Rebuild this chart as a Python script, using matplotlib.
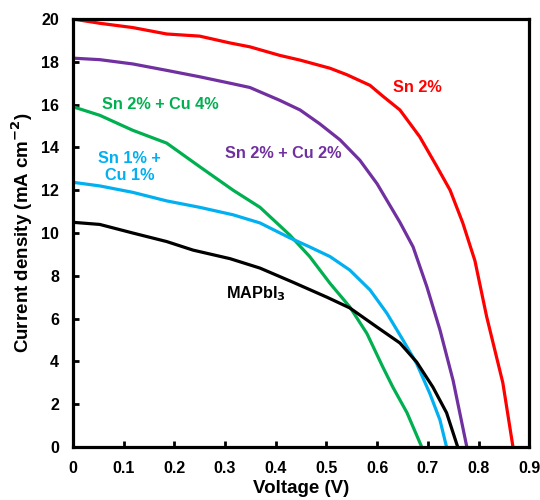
import numpy as np
import matplotlib.pyplot as plt

plt.rcParams['font.family'] = ['Liberation Sans', 'DejaVu Sans']
plt.rcParams['font.weight'] = 'bold'
plt.rcParams['mathtext.default'] = 'bf'

# J-V curves (voltage in V, current density in mA cm^-2)
v_sn2 = [0, 0.053, 0.118, 0.185, 0.25, 0.31, 0.349, 0.408, 0.448, 0.507, 0.54, 0.586, 0.611,
         0.645, 0.684, 0.718, 0.744, 0.769, 0.793, 0.816, 0.848, 0.868]
j_sn2 = [20.0, 19.8, 19.6, 19.3, 19.2, 18.88, 18.7, 18.3, 18.08, 17.7, 17.4, 16.9, 16.4,
         15.75, 14.5, 13.1, 12.0, 10.47, 8.7, 6.1, 3.0, 0]

v_sn2cu2 = [0, 0.053, 0.118, 0.185, 0.25, 0.31, 0.349, 0.408, 0.448, 0.487, 0.527, 0.566,
            0.6, 0.625, 0.645, 0.671, 0.698, 0.724, 0.75, 0.777]
j_sn2cu2 = [18.17, 18.1, 17.9, 17.6, 17.3, 17.0, 16.8, 16.2, 15.75, 15.1, 14.35, 13.4,
            12.3, 11.3, 10.5, 9.35, 7.5, 5.47, 3.1, 0]

v_sn2cu4 = [0, 0.053, 0.118, 0.185, 0.25, 0.316, 0.369, 0.428, 0.467, 0.507, 0.546, 0.58,
            0.611, 0.631, 0.659, 0.688]
j_sn2cu4 = [15.9, 15.5, 14.8, 14.2, 13.1, 12.0, 11.2, 9.9, 8.9, 7.65, 6.55, 5.3,
            3.75, 2.8, 1.6, 0]

v_sn1cu1 = [0, 0.053, 0.118, 0.185, 0.25, 0.316, 0.369, 0.428, 0.467, 0.507, 0.546, 0.586,
            0.619, 0.651, 0.678, 0.704, 0.724, 0.737]
j_sn1cu1 = [12.37, 12.2, 11.9, 11.5, 11.2, 10.85, 10.47, 9.77, 9.35, 8.9, 8.27, 7.34,
            6.26, 5.0, 3.9, 2.5, 1.26, 0]

v_mapbi = [0, 0.053, 0.118, 0.185, 0.237, 0.31, 0.369, 0.434, 0.501, 0.546, 0.6, 0.645,
           0.678, 0.71, 0.737, 0.759]
j_mapbi = [10.5, 10.4, 10.0, 9.6, 9.2, 8.8, 8.36, 7.7, 7.0, 6.5, 5.6, 4.86,
           3.97, 2.8, 1.6, 0]

fig = plt.figure(figsize=(5.4, 5.0), dpi=100)
ax = fig.add_axes([0.135, 0.106, 0.845, 0.856])

lw = 2.3
kw = dict(lw=lw, solid_joinstyle='round', solid_capstyle='butt')
ax.plot(v_sn2, j_sn2, color='#ff0000', **kw)
ax.plot(v_sn2cu2, j_sn2cu2, color='#7030a0', **kw)
ax.plot(v_sn2cu4, j_sn2cu4, color='#00b050', **kw)
ax.plot(v_sn1cu1, j_sn1cu1, color='#00b0f0', **kw)
ax.plot(v_mapbi, j_mapbi, color='#000000', **kw)

fs = 11.7
ax.text(0.68, 16.8, 'Sn 2%', color='#ff0000', fontsize=fs, fontweight='bold', ha='center', va='center')
ax.text(0.414, 13.7, 'Sn 2% + Cu 2%', color='#7030a0', fontsize=fs, fontweight='bold', ha='center', va='center')
ax.text(0.172, 16.0, 'Sn 2% + Cu 4%', color='#00b050', fontsize=fs, fontweight='bold', ha='center', va='center')
ax.text(0.112, 13.1, 'Sn 1% +\nCu 1%', color='#00b0f0', fontsize=fs, fontweight='bold', ha='center', va='center',
        multialignment='center', linespacing=1.15)
ax.text(0.36, 7.15, r'MAPbI$_3$', color='black', fontsize=fs, fontweight='bold', ha='center', va='center')

ax.set_xlim(0, 0.9)
ax.set_ylim(0, 20)
ax.set_xticks(np.arange(0, 0.91, 0.1))
ax.set_xticklabels(['0', '0.1', '0.2', '0.3', '0.4', '0.5', '0.6', '0.7', '0.8', '0.9'])
ax.set_yticks(np.arange(0, 21, 2))
ax.tick_params(direction='in', length=4, width=2, labelsize=11.5)
ax.tick_params(axis='x', pad=10)
ax.tick_params(axis='y', pad=10)
for lab in ax.get_xticklabels() + ax.get_yticklabels():
    lab.set_fontweight('bold')
for s in ax.spines.values():
    s.set_linewidth(2.3)

ax.set_xlabel('Voltage (V)', fontsize=13.5, fontweight='bold', labelpad=3)
ax.set_ylabel(r'Current density (mA cm$^{-2}$)', fontsize=13.5, fontweight='bold', labelpad=4)

fig.savefig('out.png', dpi=100)
